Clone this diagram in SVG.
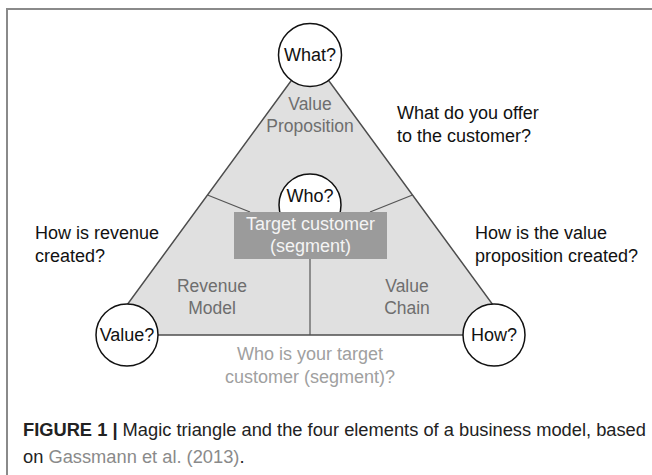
<svg xmlns="http://www.w3.org/2000/svg" width="652" height="475" viewBox="0 0 652 475">
<style>
text{font-family:"Liberation Sans",Arial,sans-serif;font-size:18px}
.c{text-anchor:middle}
.q{fill:#111}
.reg{fill:#6e6e6e;font-size:17.5px}
.cap{font-size:18.3px;fill:#222}
.node{fill:#fff;stroke:#111;stroke-width:1.5}
.sep{stroke:#555;stroke-width:1.2;fill:none}
</style>
<rect x="7" y="9" width="700" height="520" fill="none" stroke="#8a8a8a" stroke-width="2"/>
<g id="triangle">
<polygon points="310,55 105,335 515,335" fill="#e0e0e0" stroke="#4d4d4d" stroke-width="1.5"/>
</g>
<g id="connectors">
<line class="sep" x1="207.5" y1="195" x2="250" y2="212"/>
<line class="sep" x1="412.5" y1="195" x2="370" y2="212"/>
<line class="sep" x1="310" y1="259" x2="310" y2="335"/>
</g>
<g id="what">
<circle class="node" cx="310" cy="55" r="31.5"/>
<text class="c q" x="310" y="61">What?</text>
</g>
<g id="value-proposition">
<text class="c reg" x="310" y="110">Value</text>
<text class="c reg" x="310" y="132">Proposition</text>
</g>
<g id="who">
<circle class="node" cx="310" cy="205" r="31"/>
<text class="c q" x="310" y="202">Who?</text>
</g>
<g id="target-customer">
<rect x="234" y="212" width="153" height="47" fill="#9b9b9b"/>
<text class="c" x="310.5" y="230" fill="#f4f4f4">Target customer</text>
<text class="c" x="310.5" y="252" fill="#f4f4f4">(segment)</text>
</g>
<g id="revenue-model">
<text class="c reg" x="212" y="292">Revenue</text>
<text class="c reg" x="212" y="314">Model</text>
</g>
<g id="value-chain">
<text class="c reg" x="407" y="292">Value</text>
<text class="c reg" x="407" y="314">Chain</text>
</g>
<g id="value">
<circle class="node" cx="127" cy="335" r="31"/>
<text class="c q" x="127" y="341">Value?</text>
</g>
<g id="how">
<circle class="node" cx="494" cy="335" r="31"/>
<text class="c q" x="494" y="341">How?</text>
</g>
<g id="annotations">
<text class="q" x="397" y="119">What do you offer</text>
<text class="q" x="397" y="142">to the customer?</text>
<text class="q" x="35" y="239">How is revenue</text>
<text class="q" x="35" y="262">created?</text>
<text class="q" x="475" y="239">How is the value</text>
<text class="q" x="475" y="262">proposition created?</text>
<text class="c" x="310" y="360" fill="#a0a0a0">Who is your target</text>
<text class="c" x="310" y="383" fill="#a0a0a0">customer (segment)?</text>
</g>
<g id="caption">
<text class="cap" x="23" y="436"><tspan font-weight="bold">FIGURE 1 |</tspan> Magic triangle and the four elements of a business model, based</text>
<text class="cap" x="23" y="463">on <tspan fill="#8a8a8a">Gassmann et al. (2013)</tspan>.</text>
</g>
</svg>
